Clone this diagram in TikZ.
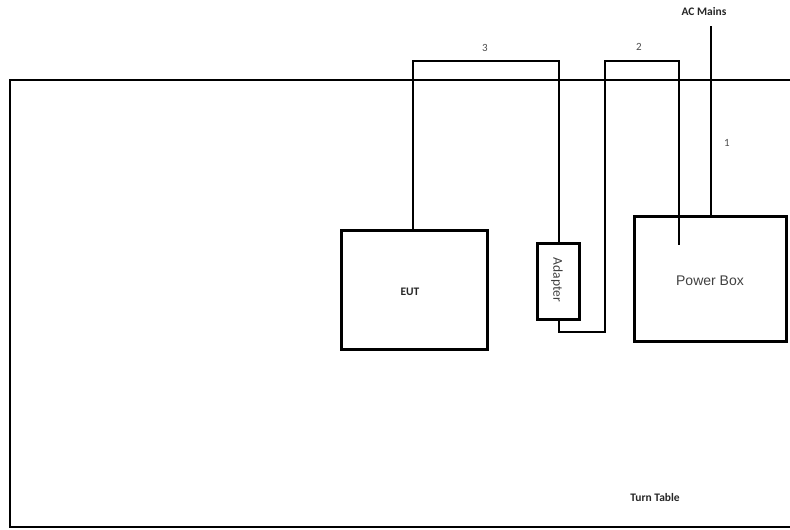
\documentclass[tikz,border=0pt]{standalone}
\usepackage{fontspec}
\setmainfont{Carlito}
\newfontfamily\arialf{Liberation Sans}
\begin{document}
\begin{tikzpicture}[x=1pt,y=-1pt,
  wire/.style={line width=2.8pt,line join=miter},
  box/.style={draw,line width=2.8pt,inner sep=0pt,anchor=north west},
  tiny/.style={font=\fontsize{11.5}{13}\selectfont\bfseries,text=black!85},
  num/.style={font=\fontsize{11}{13}\selectfont,text=black!70}]
\useasboundingbox (0,0) rectangle (790,530);
% turn table
\draw[line width=2.8pt] (810,80) -- (10,80) -- (10,527) -- (810,527);
\node[tiny] (tt) at (655,498) {Turn Table};
% boxes
\node[box,minimum width=146pt,minimum height=119pt] (eut) at (340,229) {};
\node[tiny] (eutl) at (410,292) {EUT};
\node[box,minimum width=42pt,minimum height=76pt] (ad) at (536,242) {};
\node[rotate=-90,font=\fontsize{13.5}{15}\selectfont,text=black!75] (adl) at (557,280) {Adapter};
\node[box,minimum width=152pt,minimum height=125pt] (pb) at (633,215) {};
\node[font=\arialf\fontsize{14}{16}\selectfont,text=black!75] (pbl) at (710,281) {Power Box};
% coordinates
\coordinate (c3a) at (413,61);
\coordinate (c3b) at (559,61);
\coordinate (c2a) at (559,332);
\coordinate (c2b) at (605,332);
\coordinate (c2c) at (605,61);
\coordinate (c2d) at (679,61);
\coordinate (c2e) at (679,245);
\coordinate (mains) at (711,26);
% cables
\draw[wire] (eut.north -| c3a) -- (c3a) -- (c3b) -- (ad.north -| c3b);
\draw[wire] (ad.south -| c2a) -- (c2a) -- (c2b) -- (c2c) -- (c2d) -- (c2e);
\draw[wire] (mains) -- (pb.north -| mains);
% labels
\node[tiny] (acl) at (704,12) {AC Mains};
\node[num] (n1) at (727,143) {1};
\node[num] (n2) at (639,47) {2};
\node[num] (n3) at (485,48) {3};
\end{tikzpicture}
\end{document}
